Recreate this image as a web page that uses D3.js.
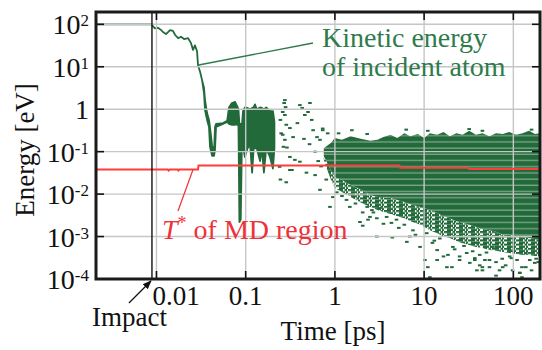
<!DOCTYPE html>
<html><head><meta charset="utf-8">
<script src="https://cdn.jsdelivr.net/npm/d3@7"></script>
<style>
body{margin:0;background:#fff}
svg{display:block}
</style>
</head><body>
<svg id="c" width="542" height="350" font-family="Liberation Serif"></svg>
<script>
// ---------- data ----------
const xTicks = [0.01, 0.1, 1, 10, 100];
const xTickLabels = ["0.01", "0.1", "1", "10", "100"];
const yTicks = [1e-4, 1e-3, 1e-2, 1e-1, 1, 10, 100];
const yTickBase = ["10", "10", "10", "10", "1", "10", "10"];
const yTickExp  = ["-4", "-3", "-2", "-1", "", "1", "2"];
const impactTime = 0.0089;

// kinetic energy of incident atom (range of values per time sample)
const keTime = [0.0021,0.0089,0.0091,0.0096,0.0104,0.0113,0.0119,0.0128,0.0142,0.0153,0.0162,0.0175,0.0188,0.0204,0.0226,0.0244,0.0257,0.027,0.0285,0.0292,0.0308,0.0324,0.0341,0.035,0.0369,0.0388,0.0398,0.042,0.0442,0.0453,0.0465,0.0557,0.062,0.065,0.07,0.076,0.08,0.083,0.085,0.088,0.091,0.0933,0.098,0.105,0.112,0.118,0.123,0.127,0.133,0.145,0.152,0.16,0.17,0.187,0.202,0.21];
const keHigh = [100,100,91,80,83,73,65,59,73,70,56,47,51,45,47,36,25,32,23,11,7.6,4.9,3.2,1.65,0.81,0.56,0.38,0.14,0.1,0.38,0.45,0.47,0.53,1.1,1.4,1.48,1.2,1.0,0.45,0.45,0.45,0.9,1.1,1.07,1.0,1.07,1.12,1.3,1.0,1.1,1.07,1.0,1.1,0.9,0.9,0.5];
const keLow  = [100,100,91,80,83,73,65,59,73,70,56,47,51,45,47,36,25,32,23,11,7.6,4.9,2.4,0.96,0.56,0.38,0.13,0.08,0.08,0.11,0.38,0.45,0.5,0.45,0.43,0.43,0.45,0.4,0.0022,0.0025,0.25,0.13,0.075,0.12,0.15,0.032,0.12,0.12,0.12,0.06,0.12,0.032,0.12,0.075,0.04,0.12];

// dense thermalised cloud after ~0.7 ps
const bandTime   = [0.75,0.9,1,1.2,1.5,2,2.5,3,3.5,4.2,5,6,7,8.5,10,11.6,14,16.5,19.4,23,27,32,38,45,54,64,76,90,107,127,150,175,199];
const bandHigh   = [0.12,0.16,0.21,0.19,0.23,0.2,0.18,0.19,0.22,0.25,0.21,0.27,0.23,0.26,0.21,0.27,0.25,0.29,0.23,0.27,0.25,0.31,0.25,0.27,0.23,0.27,0.26,0.29,0.25,0.27,0.31,0.26,0.27];
const bandLow    = [0.079,0.037,0.025,0.0215,0.0164,0.0125,0.0095,0.0086,0.0086,0.0081,0.0073,0.0065,0.0058,0.0052,0.0047,0.0042,0.0036,0.003,0.0027,0.0023,0.0021,0.0019,0.0017,0.0015,0.0014,0.0013,0.0011,0.0011,0.001,0.00098,0.00092,0.00088,0.00083];
const speckleLow = [0.064,0.022,0.0139,0.0112,0.0086,0.0062,0.005,0.0042,0.0038,0.0034,0.003,0.0027,0.0023,0.002,0.0017,0.0014,0.0012,0.001,0.00092,0.00079,0.0007,0.00063,0.00057,0.00054,0.00048,0.00046,0.00043,0.00041,0.00039,0.00037,0.00037,0.00035,0.00035];

// scattered samples outside the dense cloud [time ps, energy eV]
const scatter = [
 [0.245,0.56],[0.27,1.4],[0.25,0.27],[0.265,0.13],[0.24,0.044],[0.245,0.022],
 [0.275,1.64],[0.28,1.12],[0.275,0.73],[0.285,0.43],[0.26,0.25],[0.29,0.125],[0.313,0.075],[0.33,0.037],
 [0.275,0.19],[0.26,0.86],[0.313,0.36],[0.34,0.22],[0.38,0.47],[0.405,1.25],[0.43,1.07],[0.46,0.73],
 [0.5,0.86],[0.525,1.4],[0.55,0.56],[0.57,0.32],[0.63,0.22],[0.68,0.19],[0.73,0.32],[0.83,0.27],
 [0.356,0.064],[0.405,0.058],[0.313,0.037],[0.285,0.019],[0.48,0.032],[0.68,0.0126],[0.8,0.022],
 [0.88,0.005],[0.95,0.0085],[1.35,0.0073],[1.47,0.005],[2.05,0.0037],[2.47,0.0029],[1.91,0.0022],[2.95,0.0027],
 [0.6,0.1],[0.65,0.06],[0.52,0.15],[0.45,0.2],[0.7,0.045],[0.6,0.028],
 [1.55,0.32],[0.73,0.35],[2.3,0.26],[6.3,0.33],[32,0.34],[160,0.33],[45,0.31],[11,0.31],[1.1,0.27],
 [2.3,0.005],[2.7,0.0037],[2.35,0.0025],[3.2,0.0047],[3.8,0.0029],[4.3,0.0021],[4.9,0.0025],[5.6,0.0037],
 [6.9,0.001],[7.5,0.0014],[8.3,0.0029],[9.0,0.00057],[10.7,0.0012],[12.4,0.00071],[14,0.00048],[16.5,0.00034],
 [18.5,0.00037],[21,0.00057],[25,0.00028],[30,0.00041],[32.5,0.00024],[37,0.00031],[42,0.00021],[48,0.00028],
 [54,0.00019],[64,0.00025],[70,0.00016],[82,0.00021],[98,0.00016],[118,0.00014],[138,0.00019],[160,0.00016],
 [125,0.00011],[45,0.00016],[39,0.00016],[18,0.00019],[14,0.00028],[25,0.00083],[39,0.00071],[59,0.00057],
 [91,0.00048],[138,0.00041],[2.05,0.0018],[2.95,0.001],[4.4,0.00095],[6.4,0.00075],[10.2,0.00028],
 [11.6,0.00011],[11,0.00019],[20.5,0.00019],[25,0.00034],[37,0.00028],
 [42,0.00037],[54,0.00028],[64,0.00012],[76,0.00019],[91,0.00034],[118,0.00014],[125,0.00019],[153,0.00028],[174,0.00024],[45,0.00019],
 [1.2,0.009],[1.7,0.006],[3.5,0.002],[5.2,0.0016],[8,0.0011],[13,0.0008],[22,0.0005],[35,0.00045],[75,0.0003],[110,0.00028],[190,0.00025],
 [1.05,0.011],[2.6,0.0042],[6,0.0019],[15,0.0009],[28,0.0006],[50,0.00042],[95,0.00031],[180,0.0003]
];

// T* of MD region
const redTime  = [0.0021,0.0134,0.0137,0.0141,0.0172,0.0176,0.018,0.0292,0.0296,5.3,5.4,31,32,199];
const redValue = [0.038,0.038,0.036,0.038,0.038,0.036,0.038,0.038,0.047,0.047,0.042,0.042,0.039,0.039];

// ---------- layout ----------
const L = 96, R = 540, T = 12, B = 279;
const svg = d3.select("#c");
const x = d3.scaleLog().domain([0.0021, 199]).range([L, R]);
const y = d3.scaleLog().domain([1e-4, 195]).range([B, T]);

const GREEN = "#236a3b", TGREEN = "#2e7b4b", RED = "#ff3c3c", TRED = "#ee3239";

const defs = svg.append("defs");
defs.append("clipPath").attr("id", "plot").append("rect")
  .attr("x", L).attr("y", T).attr("width", R - L).attr("height", B - T);
const stripes = defs.append("pattern").attr("id", "stripes")
  .attr("patternUnits", "userSpaceOnUse").attr("width", 10).attr("height", 6.2);
stripes.append("rect").attr("width", 10).attr("height", 6.2).attr("fill", GREEN);
stripes.append("rect").attr("y", 5).attr("width", 10).attr("height", 1).attr("fill", "#93b89d");
const speck = defs.append("pattern").attr("id", "speck")
  .attr("patternUnits", "userSpaceOnUse").attr("width", 12).attr("height", 4.2);
speck.append("rect").attr("x", 0).attr("y", 0).attr("width", 7).attr("height", 2.1).attr("fill", GREEN);
speck.append("rect").attr("x", 8.5).attr("y", 0).attr("width", 2.5).attr("height", 2.1).attr("fill", GREEN);
speck.append("rect").attr("x", 3).attr("y", 2.1).attr("width", 6).attr("height", 2.1).attr("fill", GREEN);
speck.append("rect").attr("x", 10).attr("y", 2.1).attr("width", 2).attr("height", 2.1).attr("fill", GREEN);

const g = svg.append("g").attr("clip-path", "url(#plot)");

// speckled fringe + dense cloud
const idx = d3.range(bandTime.length);
g.append("path").datum(idx)
  .attr("d", d3.area().x(i => x(bandTime[i])).y0(i => y(speckleLow[i])).y1(i => y(bandLow[i])))
  .attr("fill", "url(#speck)");
g.append("path").datum(idx)
  .attr("d", d3.area().x(i => x(bandTime[i])).y0(i => y(bandLow[i])).y1(i => y(bandHigh[i])))
  .attr("fill", "url(#stripes)");

// scattered points
g.selectAll("rect.pt").data(scatter).join("rect").attr("class", "pt")
  .attr("x", d => x(d[0]) - 1.8).attr("y", d => y(d[1]) - 1)
  .attr("width", 3.6).attr("height", 2).attr("fill", GREEN);

// kinetic energy early trajectory
const kidx = d3.range(keTime.length);
g.append("path").datum(kidx)
  .attr("d", d3.area().x(i => x(keTime[i])).y0(i => y(keLow[i])).y1(i => y(keHigh[i])))
  .attr("fill", GREEN).attr("stroke", GREEN).attr("stroke-width", 1.8).attr("stroke-linejoin", "round");

// grid
const grid = svg.append("g").attr("stroke", "#c6c6c6").attr("stroke-width", 1.4);
grid.selectAll("line.gx").data(xTicks).join("line")
  .attr("x1", d => x(d)).attr("x2", d => x(d)).attr("y1", T).attr("y2", B);
grid.selectAll("line.gy").data(yTicks.slice(1)).join("line")
  .attr("x1", L).attr("x2", R).attr("y1", d => y(d)).attr("y2", d => y(d));

// T* line
svg.append("path").datum(d3.range(redTime.length))
  .attr("clip-path", "url(#plot)")
  .attr("d", d3.line().x(i => x(redTime[i])).y(i => y(redValue[i])))
  .attr("fill", "none").attr("stroke", RED).attr("stroke-width", 2);

// impact line
svg.append("line").attr("x1", x(impactTime)).attr("x2", x(impactTime))
  .attr("y1", T).attr("y2", B).attr("stroke", "#111").attr("stroke-width", 1.4);

// axes ticks (inside, all four sides)
const ax = svg.append("g").attr("stroke", "#111").attr("stroke-width", 1.6);
xTicks.forEach(t => {
  ax.append("line").attr("x1", x(t)).attr("x2", x(t)).attr("y1", B).attr("y2", B - 8);
  ax.append("line").attr("x1", x(t)).attr("x2", x(t)).attr("y1", T).attr("y2", T + 8);
});
yTicks.slice(1).forEach(v => {
  ax.append("line").attr("x1", L).attr("x2", L + 8).attr("y1", y(v)).attr("y2", y(v));
  ax.append("line").attr("x1", R).attr("x2", R - 8).attr("y1", y(v)).attr("y2", y(v));
});
// frame
svg.append("rect").attr("x", L).attr("y", T).attr("width", R - L).attr("height", B - T)
  .attr("fill", "none").attr("stroke", "#1a1a1a").attr("stroke-width", 3);

// tick labels
const FS = 27;
svg.selectAll("text.xl").data(xTicks).join("text").attr("class", "xl")
  .attr("x", (d, i) => i === 0 ? x(d) - 4 : x(d))
  .attr("y", 305).attr("text-anchor", (d, i) => i === 0 ? "start" : "middle")
  .attr("font-size", FS).attr("fill", "#111").text((d, i) => xTickLabels[i]);
yTicks.forEach((v, i) => {
  const t = svg.append("text").attr("x", 89).attr("y", y(v) + 10)
    .attr("text-anchor", "end").attr("font-size", 28).attr("fill", "#111");
  t.append("tspan").text(yTickBase[i]);
  if (yTickExp[i]) t.append("tspan").attr("dy", -8).attr("font-size", 17).text(yTickExp[i]);
});

// axis titles
svg.append("text").attr("x", 333).attr("y", 340).attr("text-anchor", "middle")
  .attr("font-size", FS).attr("fill", "#111").text("Time [ps]");
svg.append("text").attr("transform", "translate(34,150) rotate(-90)").attr("text-anchor", "middle")
  .attr("font-size", FS).attr("fill", "#111").text("Energy [eV]");

// Impact annotation
const defsA = defs.append("marker").attr("id", "arr").attr("viewBox", "0 0 10 10")
  .attr("refX", 9).attr("refY", 5).attr("markerWidth", 9).attr("markerHeight", 9)
  .attr("markerUnits", "userSpaceOnUse").attr("orient", "auto");
defsA.append("path").attr("d", "M0,1 L10,5 L0,9 Z").attr("fill", "#111");
const ix = x(impactTime);
svg.append("line").attr("x1", ix - 23).attr("y1", B + 24).attr("x2", ix - 1).attr("y2", B + 2)
  .attr("stroke", "#111").attr("stroke-width", 1.2).attr("marker-end", "url(#arr)");
svg.append("text").attr("x", 92).attr("y", 326).attr("font-size", FS).attr("fill", "#111").text("Impact");

// Kinetic energy annotation
svg.append("line").attr("x1", x(0.0297)).attr("y1", y(11)).attr("x2", 313).attr("y2", 43)
  .attr("stroke", TGREEN).attr("stroke-width", 1.3);
svg.append("text").attr("x", 322).attr("y", 47).attr("font-size", 28).attr("fill", TGREEN).text("Kinetic energy");
svg.append("text").attr("x", 322).attr("y", 76).attr("font-size", 28).attr("fill", TGREEN).text("of incident atom");

// T* annotation
svg.append("line").attr("x1", 178).attr("y1", 211).attr("x2", x(0.0257)).attr("y2", y(0.038))
  .attr("stroke", TRED).attr("stroke-width", 1.2);
const tt = svg.append("text").attr("x", 162).attr("y", 239).attr("font-size", 28).attr("fill", TRED);
tt.append("tspan").attr("font-style", "italic").text("T");
tt.append("tspan").attr("dy", -10).attr("font-size", 18).text("*");
tt.append("tspan").attr("dy", 10).text(" of MD region");
</script>
</body></html>
